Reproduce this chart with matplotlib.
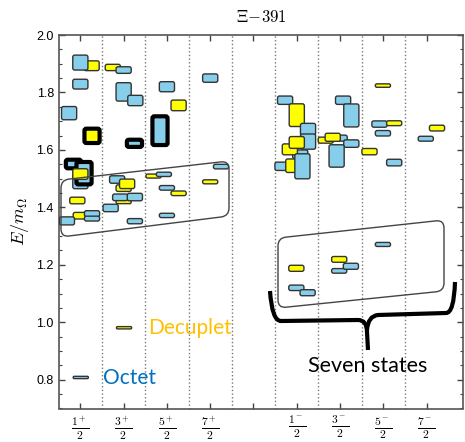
import numpy as np
import matplotlib
matplotlib.use('Agg')
import matplotlib.pyplot as plt
from matplotlib.patches import FancyBboxPatch, PathPatch
from matplotlib.path import Path
from matplotlib.transforms import Affine2D
from matplotlib.ticker import MultipleLocator

plt.rcParams['mathtext.fontset'] = 'cm'

# spin-parity channels (x positions 1..9, slot 5 left empty)
tick_labels = [r'$\frac{1^+}{2}$', r'$\frac{3^+}{2}$', r'$\frac{5^+}{2}$', r'$\frac{7^+}{2}$', '',
               r'$\frac{1^-}{2}$', r'$\frac{3^-}{2}$', r'$\frac{5^-}{2}$', r'$\frac{7^-}{2}$']

# states, in drawing order: x position, E/m_Omega, error height, kind (o=octet, d=decuplet), bold
state_x = [1.26, 1.00, 1.00, 0.74, 1.27, 2.25, 1.00, 0.84, 1.085, 1.00, 0.93, 1.01, 1.27, 1.27, 0.69,
           1.75, 2.00, 2.00, 2.27, 1.85, 2.00, 2.08, 2.00, 1.92, 2.26, 1.70, 2.26,
           3.00, 3.27, 2.84, 2.69, 2.93, 3.00, 3.27, 3.00,
           4.00, 4.00, 4.25,
           5.73, 6.00, 6.26, 6.26, 6.08, 5.84, 6.00, 5.67, 5.92, 6.13,
           7.07, 7.26, 6.99, 6.67, 6.83, 7.26, 6.92,
           7.99, 7.91, 8.25, 7.99, 7.68, 8.25,
           9.24, 8.98,
           7.99, 6.98, 6.98, 7.25, 5.99, 5.99, 6.25]
state_y = [1.893, 1.904, 1.829, 1.728, 1.649, 1.623, 1.490, 1.551, 1.519, 1.516, 1.424, 1.371, 1.378, 1.361, 1.353,
           1.887, 1.878, 1.802, 1.772, 1.497, 1.467, 1.482, 1.419, 1.435, 1.436, 1.398, 1.352,
           1.820, 1.755, 1.667, 1.509, 1.515, 1.468, 1.449, 1.372,
           1.850, 1.489, 1.542,
           1.773, 1.721, 1.672, 1.629, 1.585, 1.602, 1.626, 1.543, 1.545, 1.543,
           1.773, 1.720, 1.641, 1.634, 1.644, 1.622, 1.579,
           1.824, 1.690, 1.693, 1.658, 1.594, 1.556,
           1.676, 1.639,
           1.271, 1.219, 1.179, 1.195, 1.188, 1.120, 1.103]
state_h = [0.034, 0.052, 0.034, 0.046, 0.050, 0.025, 0.050, 0.030, 0.078, 0.037, 0.023, 0.023, 0.021, 0.017, 0.028,
           0.022, 0.023, 0.064, 0.036, 0.026, 0.023, 0.033, 0.012, 0.023, 0.026, 0.026, 0.018,
           0.035, 0.037, 0.100, 0.014, 0.015, 0.016, 0.016, 0.015,
           0.029, 0.014, 0.016,
           0.029, 0.079, 0.041, 0.053, 0.030, 0.038, 0.041, 0.029, 0.047, 0.087,
           0.029, 0.080, 0.021, 0.021, 0.028, 0.026, 0.078,
           0.012, 0.022, 0.017, 0.019, 0.022, 0.023,
           0.020, 0.017,
           0.014, 0.020, 0.016, 0.021, 0.021, 0.019, 0.021]
state_kind = ['d', 'o', 'o', 'o', 'd', 'o', 'o', 'o', 'o', 'd', 'd', 'd', 'o', 'o', 'o',
              'd', 'o', 'o', 'o', 'o', 'd', 'd', 'd', 'o', 'o', 'o', 'o',
              'o', 'd', 'o', 'd', 'o', 'o', 'd', 'o',
              'o', 'd', 'o',
              'o', 'd', 'o', 'o', 'o', 'd', 'd', 'o', 'd', 'o',
              'o', 'o', 'o', 'd', 'd', 'o', 'o',
              'd', 'o', 'd', 'o', 'd', 'o',
              'd', 'o',
              'o', 'd', 'o', 'o', 'd', 'o', 'o']
state_bold = [0, 0, 0, 0, 1, 1, 0, 1, 1, 0, 0, 0, 0, 0, 0,
              0, 0, 0, 0, 0, 0, 0, 0, 0, 0, 0, 0,
              0, 0, 1, 0, 0, 0, 0, 0,
              0, 0, 0,
              0, 0, 0, 0, 0, 0, 0, 0, 0, 0,
              0, 0, 0, 0, 0, 0, 0,
              0, 0, 0, 0, 0, 0,
              0, 0,
              0, 0, 0, 0, 0, 0, 0]

# legend markers
legend_kind = ['d', 'o']
legend_x = [2.01, 1.01]
legend_y = [0.981, 0.808]
legend_text = ['Decuplet', 'Octet']
legend_color = ['#FFC000', '#0070C0']

fill = {'o': '#87CEEB', 'd': '#FFFF00'}
W, H = 465, 442
BOX_W = 0.35
ASPECT = 43.33 / 287.5

fig = plt.figure(figsize=(W / 100, H / 100), dpi=100)
ax = fig.add_axes([58.7 / W, (H - 408.5) / H, (463 - 58.7) / W, (408.5 - 35) / H])
ax.set_xlim(0.5, 9.84)
ax.set_ylim(0.7, 2.0)

for xv in np.arange(1.5, 9.0, 1.0):
    ax.axvline(xv, color='#777777', ls=':', lw=1.0, zorder=1)


def draw_box(x, y, h, kind, bold):
    rs = min(0.045, h / ASPECT / 2 * 0.9)
    p = FancyBboxPatch((x - BOX_W / 2, y - h / 2), BOX_W, h,
                       boxstyle=f'round,pad=0,rounding_size={rs}', mutation_aspect=ASPECT,
                       facecolor=fill[kind], edgecolor='black' if bold else '#333333',
                       lw=3.0 if bold else 1.0, zorder=3)
    ax.add_patch(p)


for x, y, h, k, b in zip(state_x, state_y, state_h, state_kind, state_bold):
    draw_box(x, y, h, k, b)
for k, x, y in zip(legend_kind, legend_x, legend_y):
    draw_box(x, y, 0.008, k, 0)

ax.set_xticks(range(1, 10))
ax.set_xticklabels(tick_labels, fontsize=12)
ax.set_yticks(np.arange(0.8, 2.01, 0.2))
ax.set_yticklabels([f'{v:.1f}' for v in np.arange(0.8, 2.01, 0.2)], fontsize=9, family='Liberation Sans')
ax.yaxis.set_minor_locator(MultipleLocator(0.05))
ax.tick_params(which='both', direction='in', top=True, right=True, color='#444444')
ax.tick_params(which='major', length=4, width=1)
ax.tick_params(which='minor', length=2.5, width=0.8)
ax.tick_params(axis='x', pad=4)
for s in ax.spines.values():
    s.set_color('#555555')
    s.set_linewidth(1.2)

ax.set_ylabel(r'$E/m_\Omega$', fontsize=13, labelpad=4)
ax.set_title(r'$\Xi\!-\!391$', fontsize=12, pad=9)

# annotations drawn in pixel coordinates (y down)
pix = Affine2D().scale(1 / W, -1 / H).translate(0, 1) + fig.transFigure


def rounded_poly(pts, r):
    pts = np.array(pts, float)
    verts, codes = [], []
    for i in range(len(pts)):
        p, prev, nxt = pts[i], pts[i - 1], pts[(i + 1) % len(pts)]
        a = p + (prev - p) / np.linalg.norm(prev - p) * r
        b = p + (nxt - p) / np.linalg.norm(nxt - p) * r
        verts.append(a)
        codes.append(Path.MOVETO if i == 0 else Path.LINETO)
        verts += [p, b]
        codes += [Path.CURVE3, Path.CURVE3]
    verts.append(verts[0])
    codes.append(Path.CLOSEPOLY)
    return Path(verts, codes)


for quad in ([(61, 180), (229, 161), (229, 216), (61, 237)],
             [(278, 238), (444, 220), (444, 291), (278, 308)]):
    fig.add_artist(PathPatch(rounded_poly(quad, 8), transform=pix, fill=False,
                             edgecolor='#444444', lw=1.0, zorder=5))

brace_left = Path([(270, 291), (272, 321), (281, 321), (358, 320), (367, 320), (367, 332), (368, 350)],
                  [Path.MOVETO, Path.CURVE3, Path.CURVE3, Path.LINETO, Path.CURVE3, Path.CURVE3, Path.LINETO])
brace_right = Path([(455, 282), (454, 313), (446, 313), (378, 315), (368, 316), (367, 330)],
                   [Path.MOVETO, Path.CURVE3, Path.CURVE3, Path.LINETO, Path.CURVE3, Path.CURVE3])
for br in (brace_left, brace_right):
    fig.add_artist(PathPatch(br, transform=pix, fill=False, edgecolor='black', lw=3.0,
                             capstyle='butt', zorder=5))

fig.text(148 / W, 1 - 328 / H, legend_text[0], color=legend_color[0], fontsize=15,
         family='Lato', va='center', ha='left')
fig.text(103 / W, 1 - 378 / H, legend_text[1], color=legend_color[1], fontsize=15,
         family='Lato', va='center', ha='left')
fig.text(368 / W, 1 - 366 / H, 'Seven states', color='black', fontsize=15.5,
         family='Lato', va='center', ha='center')

fig.savefig('out.png', dpi=100)
